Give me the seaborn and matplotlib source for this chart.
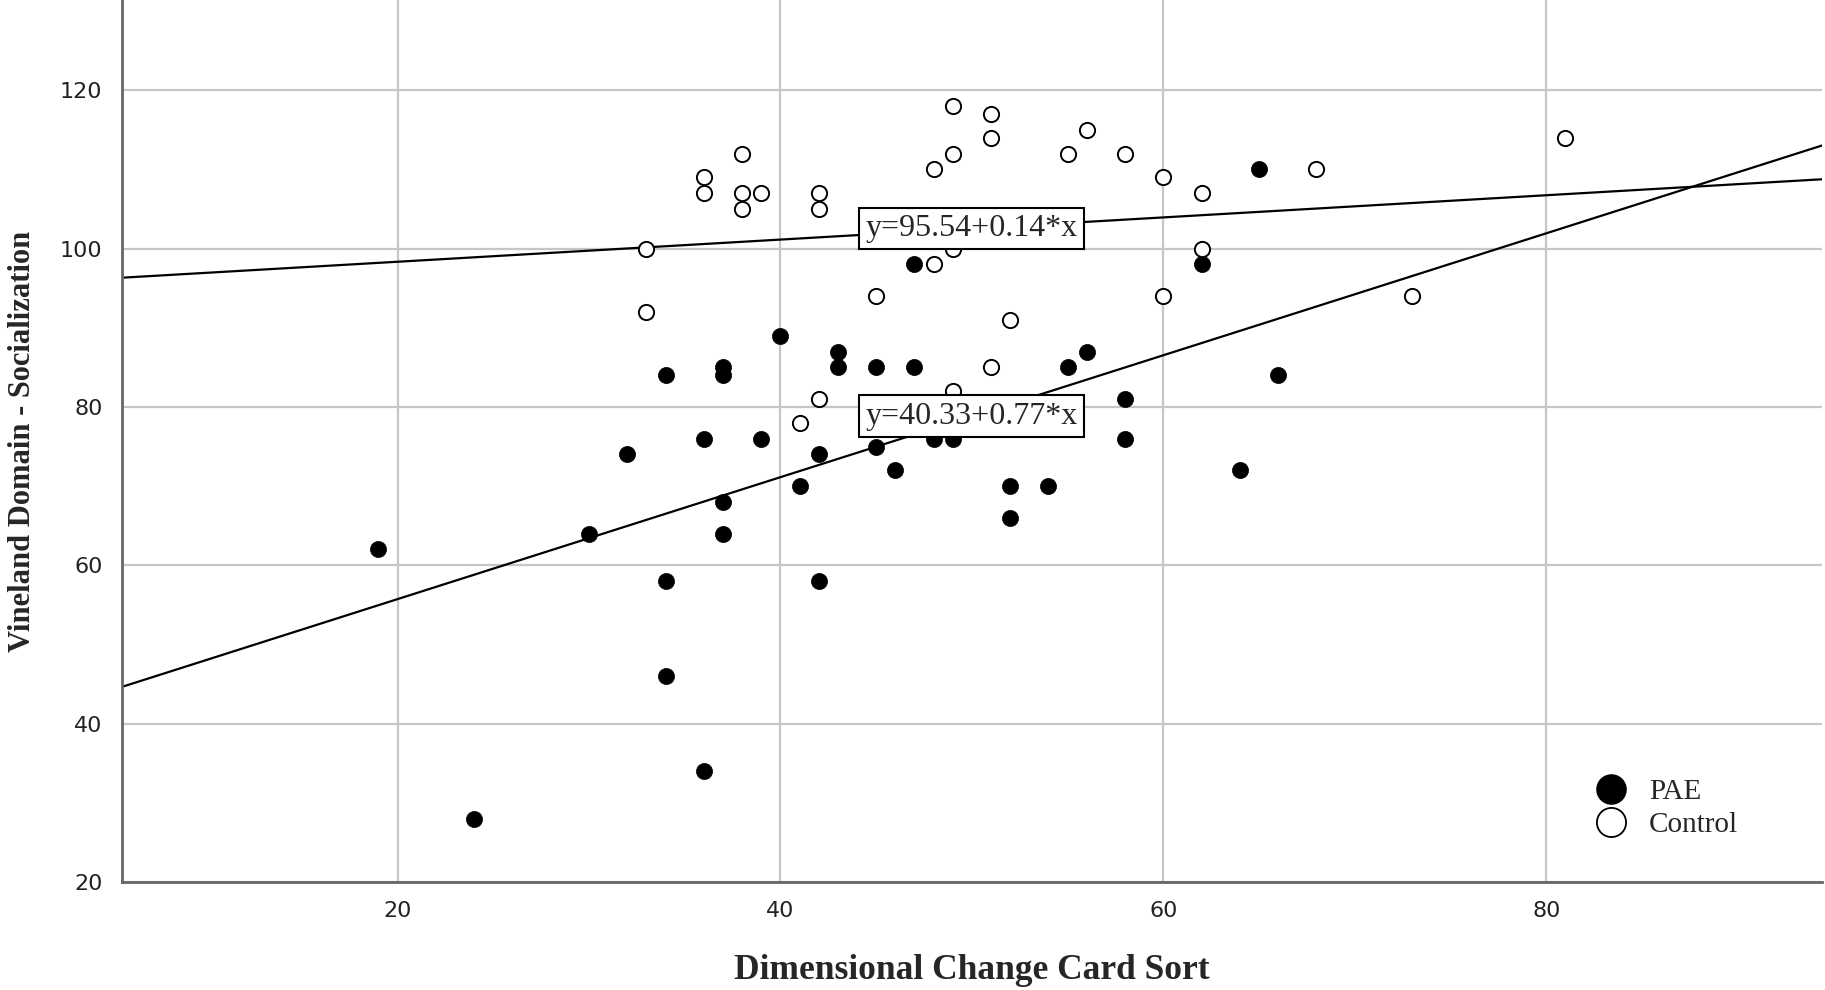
import matplotlib
matplotlib.use('Agg')
import matplotlib.pyplot as plt
from matplotlib.lines import Line2D
import seaborn as sns
import pandas as pd

# data (DCCS score vs Vineland socialization)
pae_x = [19, 24, 30, 32, 34, 34, 34, 36, 36, 37, 37, 37, 37, 39, 40, 41, 42, 42, 43,
         43, 45, 45, 46, 47, 47, 48, 49, 52, 52, 54, 55, 56, 58, 58, 62, 64, 65, 66]
pae_y = [62, 28, 64, 74, 84, 58, 46, 76, 34, 85, 84, 68, 64, 76, 89, 70, 74, 58, 87,
         85, 85, 75, 72, 98, 85, 76, 76, 70, 66, 70, 85, 87, 81, 76, 98, 72, 110, 84]
control_x = [33, 33, 36, 36, 38, 38, 38, 39, 41, 42, 42, 42, 45, 48, 48, 49, 49, 49,
             49, 51, 51, 51, 52, 55, 56, 58, 60, 60, 62, 62, 68, 73, 81]
control_y = [100, 92, 109, 107, 112, 107, 105, 107, 78, 107, 105, 81, 94, 110, 98, 118,
             112, 100, 82, 117, 114, 85, 91, 112, 115, 112, 109, 94, 107, 100, 110, 94, 114]

# fit lines as printed on the chart
groups = ['PAE', 'Control']
fit_intercept = [40.33, 95.54]
fit_slope = [0.77, 0.14]
label_at_x = 50

df = pd.concat([
    pd.DataFrame({'DCCS': pae_x, 'Vineland': pae_y, 'Group': 'PAE'}),
    pd.DataFrame({'DCCS': control_x, 'Vineland': control_y, 'Group': 'Control'}),
])

sns.set_style('white')
serif = ['Liberation Serif', 'DejaVu Serif']

fig = plt.figure(figsize=(18.25, 9.9), dpi=100)
ax = fig.add_axes([0.0668, 0.1091, 0.9315, 0.8909])

ax.grid(True, color='#c6c6c6', linewidth=1.6, zorder=0)
ax.set_axisbelow(True)

sns.scatterplot(data=df[df.Group == 'PAE'], x='DCCS', y='Vineland', ax=ax,
                color='black', edgecolor='black', s=135, linewidth=0.5,
                legend=False, zorder=3)
sns.scatterplot(data=df[df.Group == 'Control'], x='DCCS', y='Vineland', ax=ax,
                color='white', edgecolor='black', s=120, linewidth=1.4,
                legend=False, zorder=3)

for b, m in zip(fit_intercept, fit_slope):
    ax.axline((0, b), slope=m, color='black', linewidth=1.6, zorder=2)
    ax.text(label_at_x, b + m * label_at_x, f'y={b:.2f}+{m:.2f}*x',
            ha='center', va='center', fontsize=23, family=serif, zorder=5,
            bbox=dict(boxstyle='square,pad=0.2', fc='white', ec='black', lw=1.5))

ax.set_xlim(5.6, 94.4)
ax.set_ylim(20, 131.4)
ax.set_xticks([20, 40, 60, 80])
ax.set_yticks([20, 40, 60, 80, 100, 120])
ax.tick_params(length=0, labelsize=16, colors='#222222', pad=14)

for side in ['top', 'right']:
    ax.spines[side].set_visible(False)
for side in ['left', 'bottom']:
    ax.spines[side].set_color('#666666')
    ax.spines[side].set_linewidth(2)

ax.set_xlabel('Dimensional Change Card Sort', fontsize=25.5, fontweight='bold', family=serif)
ax.set_ylabel('Vineland Domain - Socialization', fontsize=22, fontweight='bold', family=serif)
ax.xaxis.set_label_coords(0.5, -0.082)
ax.yaxis.set_label_coords(-0.05, 0.5)

handles = [
    Line2D([], [], marker='o', linestyle='', markersize=21, markerfacecolor='black',
           markeredgecolor='black'),
    Line2D([], [], marker='o', linestyle='', markersize=21, markerfacecolor='white',
           markeredgecolor='black', markeredgewidth=1.3),
]
ax.legend(handles, groups, loc='upper left', bbox_to_anchor=(0.852, 0.13),
          frameon=False, prop={'family': serif, 'size': 21},
          handletextpad=0.3, labelspacing=0.22, borderaxespad=0)

fig.savefig('out.png', dpi=100, facecolor='white')
plt.close(fig)
